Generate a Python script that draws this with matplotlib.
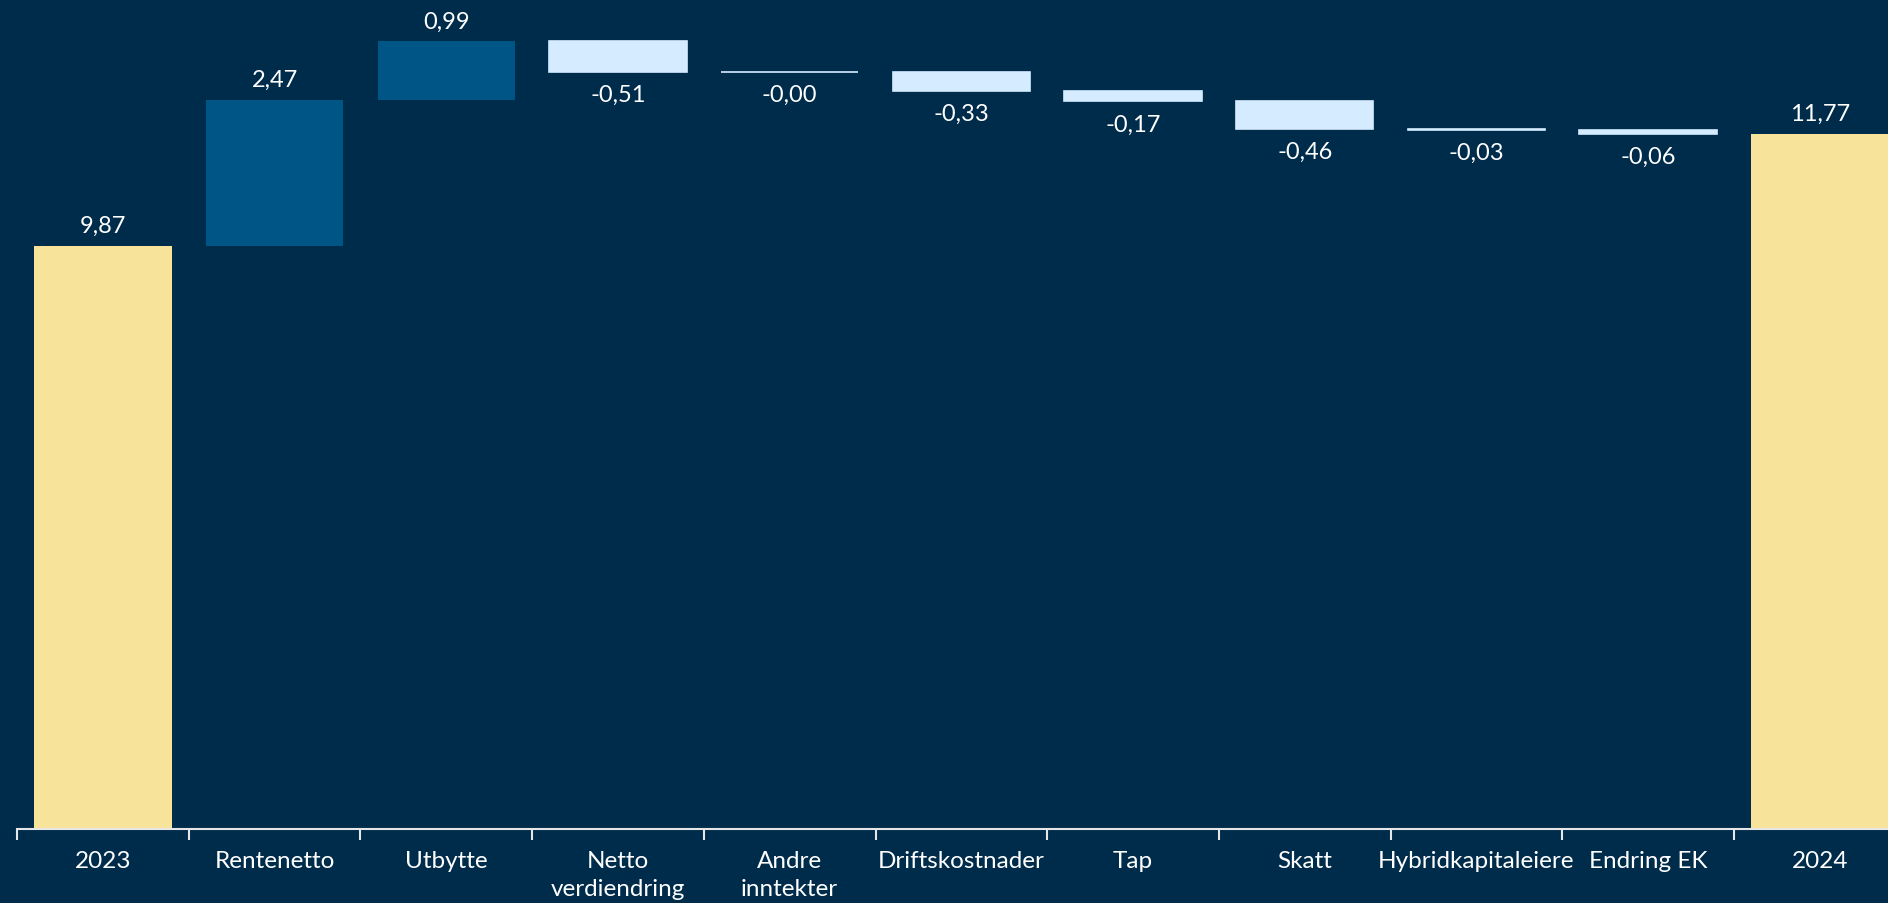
import matplotlib
matplotlib.use("Agg")
import matplotlib.pyplot as plt
import numpy as np

categories = ["2023", "Rentenetto", "Utbytte", "Netto\nverdiendring", "Andre\ninntekter",
              "Driftskostnader", "Tap", "Skatt", "Hybridkapitaleiere", "Endring EK", "2024"]
values = [9.87, 2.47, 0.99, -0.51, -0.004, -0.33, -0.17, -0.46, -0.03, -0.06, 11.77]
is_total = [True, False, False, False, False, False, False, False, False, False, True]

BG = "#002c4b"
POS = "#005587"
NEG = "#d5ebff"
TOT = "#f8e39b"

plt.rcParams['font.family'] = ['Lato', 'DejaVu Sans']

W, H = 1888, 904
fig = plt.figure(figsize=(W/100, H/100), dpi=100, facecolor=BG)
left = 17 / W
ax_w = 11 * 171.7 / W
bottom = 74 / H
ax_h = 830 / H
ax = fig.add_axes([left, bottom, ax_w, ax_h], facecolor=BG)

x = np.arange(len(categories))
bottoms, heights, colors = [], [], []
running = 0.0
for v, t in zip(values, is_total):
    if t:
        bottoms.append(0.0); heights.append(v); colors.append(TOT)
        running = v
    else:
        if v >= 0:
            bottoms.append(running); heights.append(v); colors.append(POS)
        else:
            bottoms.append(running + v); heights.append(-v); colors.append(NEG)
        running += v

bars = ax.bar(x, heights, bottom=bottoms, width=0.8, color=colors,
              edgecolor=[c if c == NEG else 'none' for c in colors], linewidth=1.2)

def fmt(v):
    s = f"{v:.2f}".replace(".", ",")
    if v < 0 and not s.startswith("-"):
        s = "-" + s
    return s

for xi, v, b, h, t in zip(x, values, bottoms, heights, is_total):
    if t or v >= 0:
        ax.annotate(fmt(v), (xi, b + h), xytext=(0, 10), textcoords="offset pixels",
                    ha="center", va="bottom", color="white", fontsize=17)
    else:
        ax.annotate(fmt(v), (xi, b), xytext=(0, -12), textcoords="offset pixels",
                    ha="center", va="top", color="white", fontsize=17)

ax.set_xlim(-0.5, len(categories) - 0.5)
ax.set_ylim(0, 830 / 59.08)

ax.set_xticks(np.arange(-0.5, len(categories), 1.0))
ax.set_xticklabels([])
ax.set_xticks(x, minor=True)
ax.set_xticklabels(categories, minor=True, color="white", fontsize=17.5, linespacing=1.45)
ax.tick_params(axis="x", which="major", direction="out", length=8, width=1.5, color="#e6e6e6")
ax.tick_params(axis="x", which="minor", length=0, pad=15)
ax.set_yticks([])

for s in ["top", "right", "left"]:
    ax.spines[s].set_visible(False)
ax.spines["bottom"].set_color("#e6e6e6")
ax.spines["bottom"].set_linewidth(1.5)

fig.savefig("out.png", dpi=100, facecolor=BG)
